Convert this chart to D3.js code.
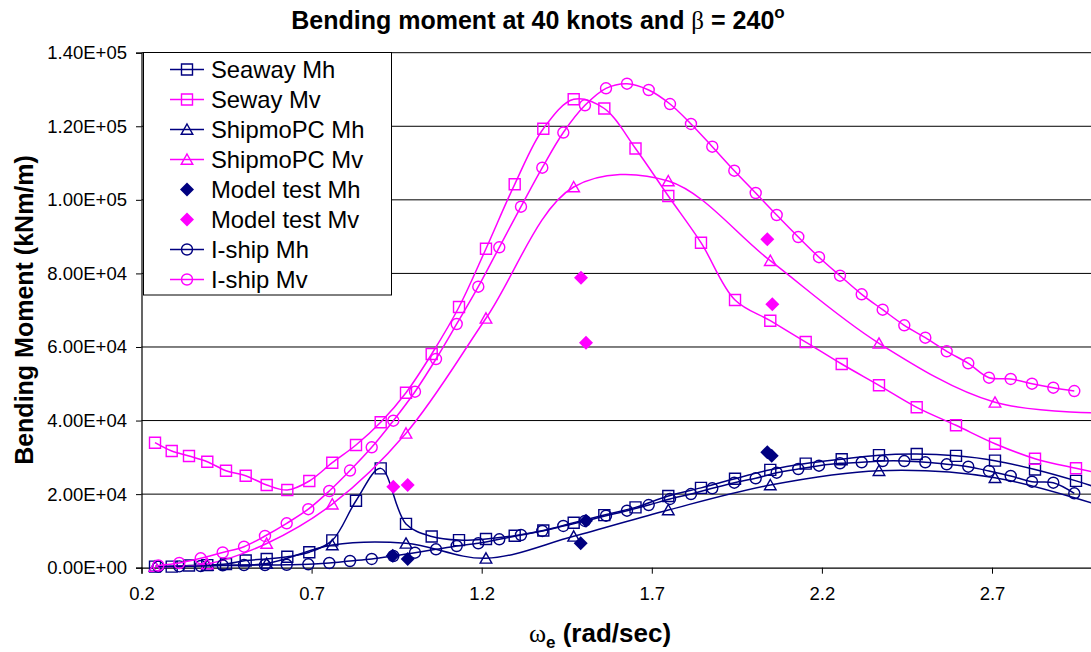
<!DOCTYPE html>
<html>
<head>
<meta charset="utf-8">
<script src="https://d3js.org/d3.v7.min.js"></script>
<style>
  html, body { margin: 0; padding: 0; background: #fff; }
  svg { display: block; overflow: hidden; }
  text { font-family: Arial, "Liberation Sans", sans-serif; }
</style>
</head>
<body>
<svg id="chart" width="1091" height="652"></svg>
<script>
// Encounter frequency grids (rad/sec)
const omegaSeaway = [0.2397, 0.2888, 0.3396, 0.3934, 0.4484, 0.5063, 0.568, 0.6286, 0.6932, 0.7608,
  0.8305, 0.9031, 0.9775, 1.0530, 1.1333, 1.2126, 1.297, 1.3811, 1.4704, 1.5604,
  1.6521, 1.7485, 1.8446, 1.9446, 2.0483, 2.1524, 2.2582, 2.3678, 2.4787, 2.5942,
  2.7088, 2.8264, 2.9469, 3.066];
const seawayMh = [300, 300, 600, 700, 1000, 1960, 2370, 2990, 4210, 7420,
  18200, 27000, 11900, 8500, 7500, 7800, 8700, 10100, 12200, 14300,
  16400, 19500, 21700, 24200, 26600, 28300, 29500, 30600, 30900, 30400,
  29100, 26700, 23600, 20000];
const seawayMv = [33980, 31720, 30370, 28820, 26370, 25010, 22480, 21120, 23570, 28540,
  33360, 39530, 47570, 58090, 70870, 86720, 104220, 119340, 127330, 124830,
  113960, 101040, 88350, 72770, 67150, 61350, 55370, 49580, 43600, 38710,
  33710, 29630, 27020, 24800];

const omegaShipmo = [0.2397, 0.3934, 0.568, 0.7608, 0.9775, 1.2126, 1.4704, 1.7485, 2.0483, 2.3678, 2.7088, 3.066];
const shipmoMh = [330, 600, 1140, 6170, 6630, 2560, 8540, 15690, 22480, 26370, 24470, 15500];
const shipmoMv = [300, 1000, 6580, 17260, 36540, 67800, 103490, 105120, 83460, 61000, 44960, 42000];

const omegaModelMh = [0.9384, 0.9825, 1.491, 1.5066, 2.0395, 2.0525];
const modelMh = [3260, 2370, 6630, 12780, 31370, 30450];
const omegaModelMv = [0.9402, 0.9825, 1.4919, 1.5066, 2.0395, 2.0542];
const modelMv = [22020, 22480, 78830, 61160, 89270, 71600];

const omegaIship = [0.2494, 0.3111, 0.374, 0.4387, 0.5013, 0.563, 0.6268, 0.6903, 0.752, 0.8129,
  0.8767, 0.9402, 1.0039, 1.0657, 1.1265, 1.19, 1.2517, 1.3155, 1.3781, 1.4399,
  1.5036, 1.5654, 1.6271, 1.6909, 1.7535, 1.8152, 1.8778, 1.9425, 2.0054, 2.0671,
  2.1306, 2.1915, 2.2532, 2.317, 2.3787, 2.4422, 2.504, 2.5669, 2.6303, 2.6912,
  2.755, 2.8176, 2.8802, 2.9419];
const ishipMh = [300, 350, 460, 650, 730, 730, 790, 920, 1280, 1820,
  2370, 3180, 4080, 5000, 5900, 6630, 7720, 8890, 9980, 11340,
  12700, 14140, 15490, 17040, 18680, 20030, 21580, 23110, 24300, 25820,
  26830, 27730, 28380, 28650, 29000, 29000, 28650, 28110, 27460, 26290,
  24930, 23380, 23110, 20220];
const ishipMv = [600, 1280, 2560, 4130, 5710, 8620, 12070, 15900, 20850, 26420,
  32730, 39960, 47840, 56730, 66250, 76390, 87100, 98130, 108740, 118300,
  125700, 130320, 131570, 129860, 126050, 120620, 114450, 107920, 101860, 95880,
  89900, 84410, 79380, 74320, 70130, 65890, 62520, 58830, 55560, 51650,
  51300, 50020, 48930, 48030];

const xTicks = [0.2, 0.7, 1.2, 1.7, 2.2, 2.7];
const yTicks = [0, 20000, 40000, 60000, 80000, 100000, 120000, 140000];

const NAVY = "#000080", MAGENTA = "#ff00ff";

const series = [
  { name: "Seaway Mh", x: omegaSeaway, y: seawayMh, color: NAVY, marker: "square", line: true },
  { name: "Seway Mv", x: omegaSeaway, y: seawayMv, color: MAGENTA, marker: "square", line: true },
  { name: "ShipmoPC Mh", x: omegaShipmo, y: shipmoMh, color: NAVY, marker: "triangle", line: true },
  { name: "ShipmoPC Mv", x: omegaShipmo, y: shipmoMv, color: MAGENTA, marker: "triangle", line: true },
  { name: "Model test Mh", x: omegaModelMh, y: modelMh, color: NAVY, marker: "diamond", line: false },
  { name: "Model test Mv", x: omegaModelMv, y: modelMv, color: MAGENTA, marker: "diamond", line: false },
  { name: "I-ship Mh", x: omegaIship, y: ishipMh, color: NAVY, marker: "circle", line: true },
  { name: "I-ship Mv", x: omegaIship, y: ishipMv, color: MAGENTA, marker: "circle", line: true }
];

const svg = d3.select("#chart");
const plot = { left: 141.5, top: 52.7, bottom: 567.7 };
const x = d3.scaleLinear().domain([0.2, 3.0]).range([plot.left, plot.left + 2.8 * 340.2]);
const y = d3.scaleLinear().domain([0, 140000]).range([plot.bottom, plot.top]);

// Gridlines
svg.append("g").selectAll("line").data(yTicks.slice(1)).join("line")
  .attr("x1", plot.left).attr("x2", x(3.0))
  .attr("y1", d => y(d)).attr("y2", d => y(d))
  .attr("stroke", "#000").attr("stroke-width", 1);

// Axes
function sci(d) {
  const [m, e] = d.toExponential(2).split("e");
  const n = Math.abs(+e);
  return m + "E" + (+e < 0 ? "-" : "+") + (n < 10 ? "0" + n : n);
}
const yAxis = svg.append("g").attr("transform", `translate(${plot.left},0)`)
  .call(d3.axisLeft(y).tickValues(yTicks).tickFormat(sci).tickSize(5.5).tickPadding(9));
const xAxis = svg.append("g").attr("transform", `translate(0,${plot.bottom})`)
  .call(d3.axisBottom(x).tickValues(xTicks).tickFormat(d3.format(".1f")).tickSize(6).tickPadding(13));
[yAxis, xAxis].forEach(g => {
  g.select(".domain").attr("stroke", "#000").attr("stroke-width", 1.2);
  g.selectAll(".tick line").attr("stroke", "#000");
  g.selectAll("text").attr("font-size", 18.5).attr("fill", "#000")
    .attr("font-family", "Arial, 'Liberation Sans', sans-serif");
});

// Marker shapes
function markerPath(type) {
  switch (type) {
    case "square": return "M-5.5,-5.5H5.5V5.5H-5.5Z";
    case "triangle": return "M0,-5.5L5.8,4.8H-5.8Z";
    case "diamond": return "M0,-7L7,0L0,7L-7,0Z";
    case "circle": return "M5.5,0A5.5,5.5,0,1,1,-5.5,0A5.5,5.5,0,1,1,5.5,0Z";
  }
}

const line = d3.line().x(d => x(d[0])).y(d => y(d[1])).curve(d3.curveCatmullRom.alpha(0.5));

const dataLayer = svg.append("g");
series.forEach(s => {
  const pts = s.x.map((v, i) => [v, s.y[i]]);
  const g = dataLayer.append("g");
  if (s.line) {
    g.append("path").attr("d", line(pts)).attr("fill", "none")
      .attr("stroke", s.color).attr("stroke-width", 1.5);
  }
  const filled = s.marker === "diamond";
  g.selectAll("path.mk").data(pts).join("path").attr("class", "mk")
    .attr("d", markerPath(s.marker))
    .attr("transform", d => `translate(${x(d[0])},${y(d[1])})`)
    .attr("fill", filled ? s.color : "none")
    .attr("stroke", s.color).attr("stroke-width", filled ? 0 : 1.4);
});

// Legend
const legend = svg.append("g");
legend.append("rect").attr("x", 143.5).attr("y", 52.5).attr("width", 248).attr("height", 242.5)
  .attr("fill", "#fff").attr("stroke", "#000").attr("stroke-width", 1);
series.forEach((s, i) => {
  const cy = 69.5 + i * 30;
  const g = legend.append("g");
  if (s.line) {
    g.append("line").attr("x1", 170).attr("x2", 204).attr("y1", cy).attr("y2", cy)
      .attr("stroke", s.color).attr("stroke-width", 1.5);
  }
  const filled = s.marker === "diamond";
  g.append("path").attr("d", markerPath(s.marker)).attr("transform", `translate(187,${cy})`)
    .attr("fill", filled ? s.color : "none").attr("stroke", s.color).attr("stroke-width", filled ? 0 : 1.4);
  g.append("text").attr("x", 211).attr("y", cy + 8.3).attr("font-size", 23.8).attr("fill", "#000").text(s.name);
});

// Title
const title = svg.append("text").attr("x", 538).attr("y", 29).attr("text-anchor", "middle")
  .attr("font-size", 25).attr("font-weight", "bold").attr("fill", "#000");
title.append("tspan").text("Bending moment at 40 knots and ");
title.append("tspan").attr("font-family", "'Liberation Serif', serif").attr("font-weight", "normal").text("β");
title.append("tspan").text(" = 240");
title.append("tspan").attr("font-size", 17).attr("dy", -11).text("o");

// Axis titles
const xt = svg.append("text").attr("x", 600).attr("y", 642).attr("text-anchor", "middle")
  .attr("font-size", 26).attr("font-weight", "bold").attr("fill", "#000");
xt.append("tspan").attr("font-family", "'Liberation Serif', serif").attr("font-weight", "normal").text("ω");
xt.append("tspan").attr("font-size", 17).attr("dy", 6).text("e");
xt.append("tspan").attr("dy", -6).text(" (rad/sec)");

svg.append("text").attr("transform", "translate(33,310) rotate(-90)").attr("text-anchor", "middle")
  .attr("font-size", 25).attr("font-weight", "bold").attr("fill", "#000")
  .text("Bending Moment (kNm/m)");
</script>
</body>
</html>
